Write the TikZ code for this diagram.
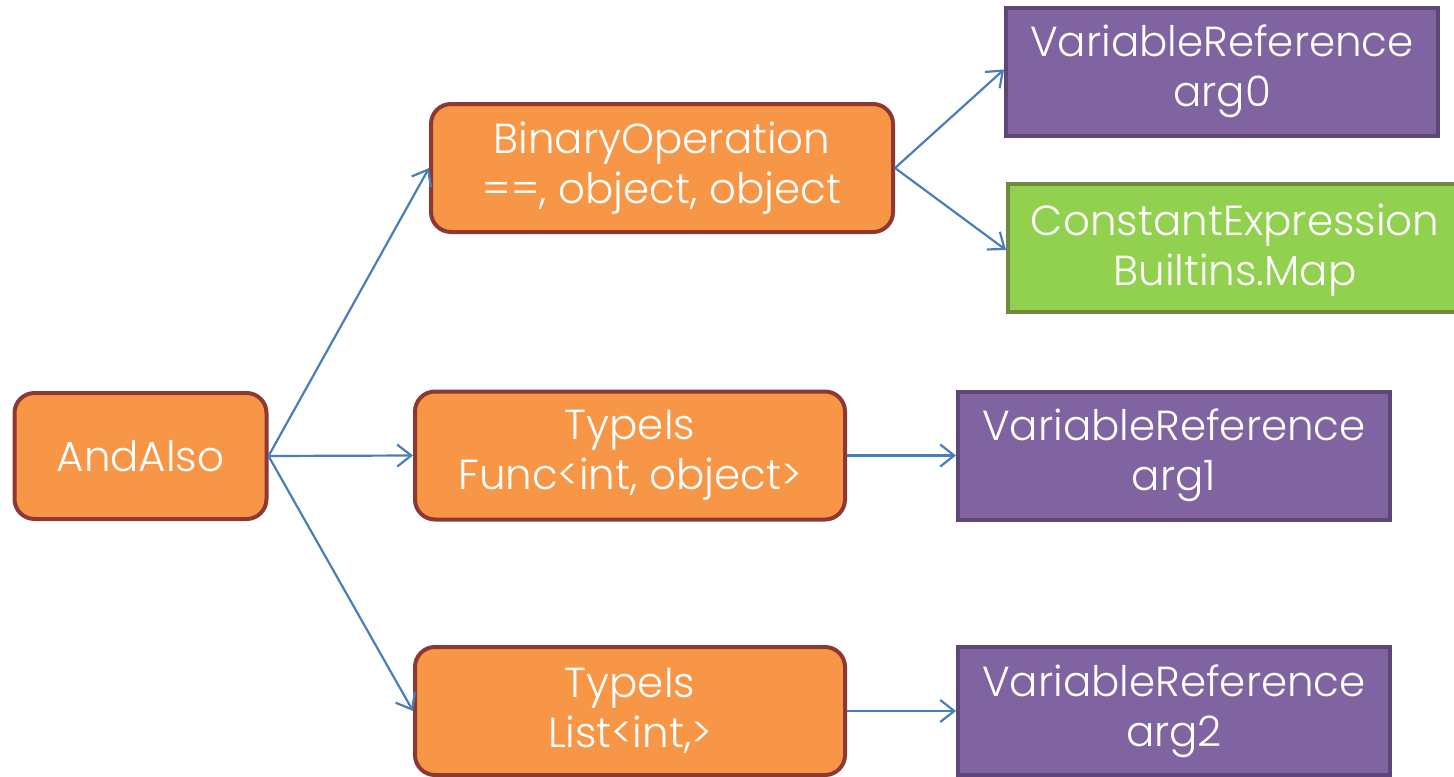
\documentclass[tikz,border=0pt]{standalone}
\usepackage{fontspec}
\setmainfont{Poppins Light}
\usetikzlibrary{arrows.meta}
\definecolor{orfill}{HTML}{F79646}
\definecolor{ordraw}{HTML}{8E3833}
\definecolor{pufill}{HTML}{8064A2}
\definecolor{pudraw}{HTML}{5C4776}
\definecolor{grfill}{HTML}{92D050}
\definecolor{grdraw}{HTML}{71893F}
\definecolor{arr}{HTML}{4A7EBB}
\tikzset{
  box/.style={draw, line width=2pt, text=white, align=center, inner sep=0pt,
    font=\fontsize{21}{25}\selectfont},
  obox/.style={box, fill=orfill, draw=ordraw, rounded corners=10pt},
  pbox/.style={box, fill=pufill, draw=pudraw},
  gbox/.style={box, fill=grfill, draw=grdraw},
  conn/.style={draw=arr, line width=1.1pt, -{Straight Barb[length=7pt,width=11pt,line width=1.1pt]}}
}
\begin{document}
\begin{tikzpicture}[x=0.5pt,y=-0.5pt]
\useasboundingbox (0,0) rectangle (1454,776);
\node[obox, minimum width=126pt, minimum height=63pt] (and) at (140.5,456) {AndAlso};
\node[obox, minimum width=231pt, minimum height=64pt] (bin) at (662,168) {BinaryOperation\\==, object, object};
\node[obox, minimum width=215pt, minimum height=64pt] (func) at (630,455.5) {TypeIs\\Func<int, object>};
\node[obox, minimum width=215pt, minimum height=64pt] (list) at (630,711) {TypeIs\\List<int,>};
\node[pbox, minimum width=216pt, minimum height=64pt] (a0) at (1222,71.5) {VariableReference\\arg0};
\node[gbox, minimum width=232pt, minimum height=64pt, anchor=west] (ce) at (1006,248) {};
\node[text=white, align=center, font=\fontsize{21}{25}\selectfont, inner sep=0pt] (cet) at (1235,250) {ConstantExpression\\Builtins.Map};
\node[pbox, minimum width=216pt, minimum height=64pt] (a1) at (1174,455.5) {VariableReference\\arg1};
\node[pbox, minimum width=216pt, minimum height=64pt] (a2) at (1174,711) {VariableReference\\arg2};
\draw[conn] (and.east) -- (bin.west);
\draw[conn] (and.east) -- (func.west);
\draw[conn] (and.east) -- (list.west);
\draw[conn] (bin.east) -- ([yshift=1pt]a0.west);
\draw[conn] (bin.east) -- ([yshift=-1pt]ce.west);
\draw[conn] (func.east) -- (a1.west);
\draw[conn] (list.east) -- (a2.west);
\end{tikzpicture}
\end{document}
